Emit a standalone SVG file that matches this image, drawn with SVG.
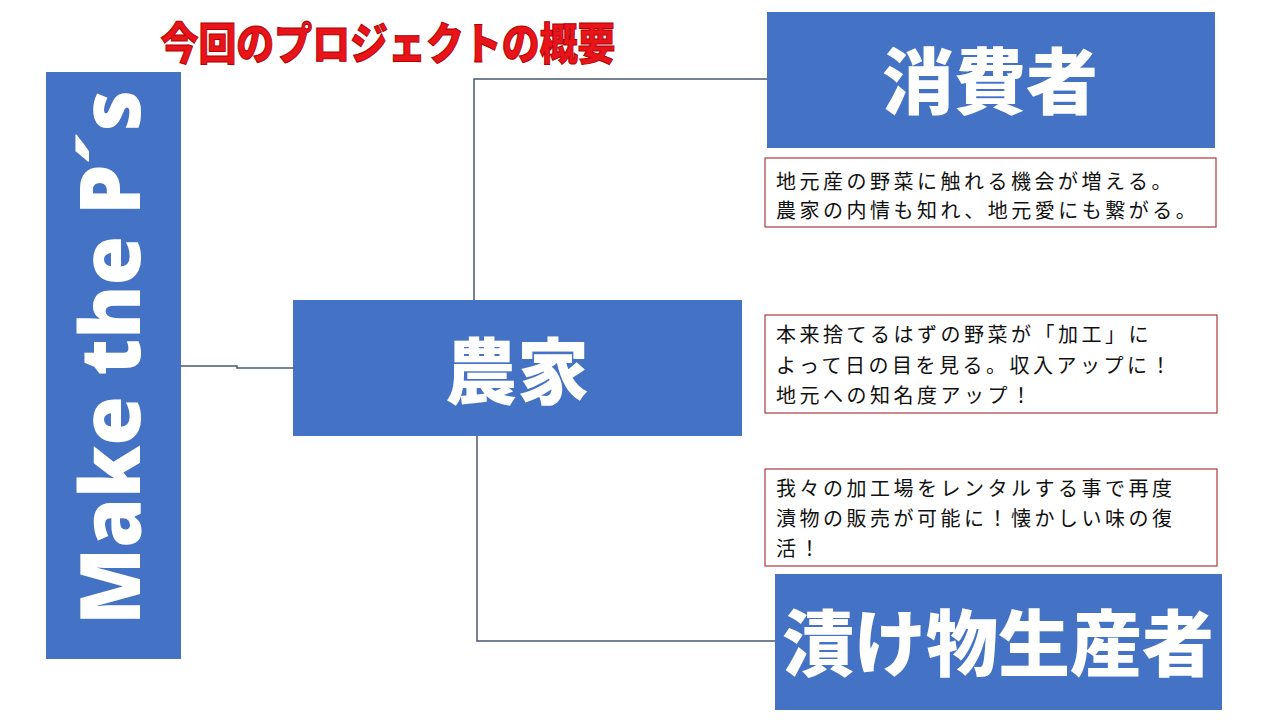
<svg xmlns="http://www.w3.org/2000/svg" width="1280" height="720" viewBox="0 0 1280 720">
<style>
.blue{fill:#4472C4}
.big{font-family:"Noto Sans CJK JP",sans-serif;font-weight:900;fill:#fff;text-anchor:middle;dominant-baseline:central}
.note{fill:#fff;stroke:#B0393B;stroke-width:1.2}
.nt{font-family:"Noto Sans CJK JP",sans-serif;font-size:20px;letter-spacing:3.5px;fill:#111}
.conn{fill:none;stroke:#4A5A70;stroke-width:1.5}
</style>
<rect width="1280" height="720" fill="#fff"/>
<text x="388" y="41" font-family="Noto Sans CJK JP,sans-serif" font-weight="900" font-size="44" fill="#E8141A" stroke="#B00000" stroke-width="1" text-anchor="middle" dominant-baseline="central" textLength="455" lengthAdjust="spacingAndGlyphs">今回のプロジェクトの概要</text>
<g id="connectors">
<path class="conn" d="M181 366 H237 V368 H293"/>
<path class="conn" d="M474 300 V79 H767"/>
<path class="conn" d="M477 436 V641 H775"/>
</g>
<g id="make">
<rect class="blue" x="46" y="72" width="135" height="587"/>
<text transform="translate(140,625) rotate(-90)" x="0" y="0" font-family="Open Sans,Noto Sans,sans-serif" font-weight="800" font-size="84" fill="#fff" textLength="535" lengthAdjust="spacingAndGlyphs">Make the P´s</text>
</g>
<g id="farmer">
<rect class="blue" x="293" y="300" width="449" height="136"/>
<text class="big" x="517" y="366" font-size="72">農家</text>
</g>
<g id="consumer">
<rect class="blue" x="767" y="12" width="448" height="136"/>
<text class="big" x="990" y="76" font-size="72">消費者</text>
</g>
<g id="producer">
<rect class="blue" x="775" y="574" width="447" height="136"/>
<text class="big" x="998" y="638" font-size="72">漬け物生産者</text>
</g>
<g id="note1">
<rect class="note" x="765" y="158" width="451" height="69"/>
<text class="nt" x="776" y="189">地元産の野菜に触れる機会が増える。</text>
<text class="nt" x="776" y="218">農家の内情も知れ、地元愛にも繋がる。</text>
</g>
<g id="note2">
<rect class="note" x="765" y="315" width="452" height="98"/>
<text class="nt" x="776" y="342">本来捨てるはずの野菜が「加工」に</text>
<text class="nt" x="776" y="373">よって日の目を見る。収入アップに！</text>
<text class="nt" x="776" y="403">地元への知名度アップ！</text>
</g>
<g id="note3">
<rect class="note" x="765" y="469" width="452" height="97"/>
<text class="nt" x="776" y="496">我々の加工場をレンタルする事で再度</text>
<text class="nt" x="776" y="526">漬物の販売が可能に！懐かしい味の復</text>
<text class="nt" x="776" y="556">活！</text>
</g>
</svg>
